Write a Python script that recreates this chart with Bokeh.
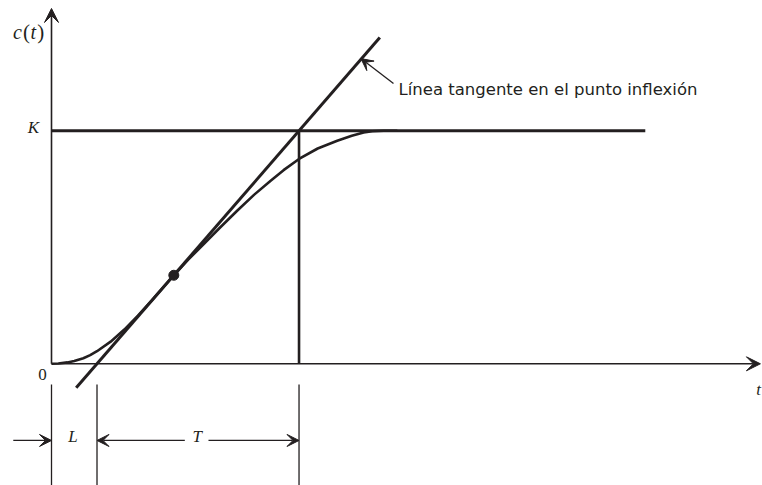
from bokeh.plotting import figure
from bokeh.models import Range1d, Arrow, VeeHead, ColumnDataSource
from bokeh.core.properties import value
from bokeh.embed import file_html
from bokeh.resources import INLINE

# --- Step response (S-shaped) of the plant, read point by point ---
t_curve = [0.0, 0.15, 0.35, 0.5, 0.7, 0.85, 1.0, 1.3, 1.6, 1.9, 2.2, 2.45, 2.688,
           3.0, 3.346, 3.7, 4.08, 4.45, 4.81, 5.1, 5.44, 5.85, 6.28, 6.6, 6.86, 7.05, 7.3, 7.6]
c_curve = [0.0, 0.001, 0.006, 0.012, 0.024, 0.037, 0.054, 0.095, 0.147, 0.207, 0.271, 0.327, 0.380,
           0.446, 0.514, 0.584, 0.657, 0.725, 0.785, 0.831, 0.879, 0.924, 0.957, 0.979, 0.993, 0.998, 1.0, 1.0]

# Process parameters
K = 1.0          # final value
L = 1.0          # delay time
T = 4.44         # time constant
t_inflection = 2.688
c_inflection = 0.380

# Extent of the drawing
t_axis_end = 15.58
c_axis_end = 1.525
t_K_end = 13.05
c_tangent_low = -0.103
c_tangent_high = 1.40

INK = "#231f20"
SERIF = value("Liberation Serif")
SANS = value("DejaVu Sans")

p = figure(width=762, height=485,
           x_range=Range1d(-1.1209, 15.626), y_range=Range1d(-0.5223, 1.5592),
           output_backend="svg", toolbar_location=None, min_border=0,
           x_axis_type=None, y_axis_type=None)
p.grid.visible = False
p.outline_line_color = None
p.background_fill_color = "white"
p.border_fill_color = "white"

# Coordinate axes with arrowheads
axis_head = dict(size=14, fill_color=INK, line_color=INK, line_width=1)
p.add_layout(Arrow(x_start=0, y_start=0, x_end=t_axis_end, y_end=0,
                   line_color=INK, line_width=1.6, end=VeeHead(**axis_head)))
p.add_layout(Arrow(x_start=0, y_start=0, x_end=0, y_end=c_axis_end,
                   line_color=INK, line_width=1.6, end=VeeHead(**axis_head)))

# Final value K
p.line([0, t_K_end], [K, K], line_color=INK, line_width=3)

# Tangent through the inflection point: c = K (t - L) / T
t_tan = [L + T * c_tangent_low / K, L + T * c_tangent_high / K]
c_tan = [c_tangent_low, c_tangent_high]
p.line(t_tan, c_tan, line_color=INK, line_width=3)

# Response curve
src = ColumnDataSource(dict(t=t_curve, c=c_curve))
p.line("t", "c", source=src, line_color=INK, line_width=2.6)

# Vertical from the tangent / K intersection down to the time axis
p.line([L + T, L + T], [0, K], line_color=INK, line_width=2.6)

# Inflection point
p.scatter([t_inflection], [c_inflection], size=10, fill_color=INK, line_color=INK)

# Dimension lines below the axis for L and T
dim_top, dim_bottom = -0.089, -0.53
for tx in [0.0, L, L + T]:
    p.line([tx, tx], [dim_top, dim_bottom], line_color=INK, line_width=1.3)

arrow_y = -0.329
head = dict(size=12, fill_color=INK, line_color=INK, line_width=1)
p.add_layout(Arrow(x_start=-0.84, y_start=arrow_y, x_end=0.0, y_end=arrow_y,
                   line_color=INK, line_width=1.3, end=VeeHead(**head)))
p.add_layout(Arrow(x_start=L + 1.93, y_start=arrow_y, x_end=L, y_end=arrow_y,
                   line_color=INK, line_width=1.3, end=VeeHead(**head)))
p.add_layout(Arrow(x_start=L + 2.45, y_start=arrow_y, x_end=L + T, y_end=arrow_y,
                   line_color=INK, line_width=1.3, end=VeeHead(**head)))

# Pointer to the tangent line
p.add_layout(Arrow(x_start=7.516, y_start=1.203, x_end=6.80, y_end=1.31,
                   line_color=INK, line_width=1.3,
                   end=VeeHead(size=12, fill_color=INK, line_color=INK, line_width=1)))

p.text([7.626], [1.177], text=["Línea tangente en el punto inflexión"],
       text_font=SANS, text_font_size="16.5px", text_color=INK,
       text_align="left", text_baseline="middle")

# Ordinate label c(t): italic letters, upright parentheses
italic = dict(text_font=SERIF, text_font_style="italic", text_color=INK,
              text_align="center", text_baseline="middle")
upright = dict(text_font=SERIF, text_color=INK, text_align="center", text_baseline="middle")
p.text([-0.75], [1.426], text=["c"], text_font_size="20px", **italic)
p.text([-0.55], [1.426], text=["("], text_font_size="21px", **upright)
p.text([-0.40], [1.426], text=["t"], text_font_size="20px", **italic)
p.text([-0.235], [1.426], text=[")"], text_font_size="21px", **upright)

# Other labels
p.text([-0.40], [1.015], text=["K"], text_font_size="17px", **italic)
p.text([-0.20], [-0.046], text=["0"], text_font_size="17px", **upright)
p.text([15.54], [-0.11], text=["t"], text_font_size="17px", **italic)
p.text([L / 2 - 0.03], [-0.313], text=["L"], text_font_size="17px", **italic)
p.text([L + 2.2], [-0.313], text=["T"], text_font_size="17px", **italic)

open("out.html", "w").write(file_html(p, INLINE))
